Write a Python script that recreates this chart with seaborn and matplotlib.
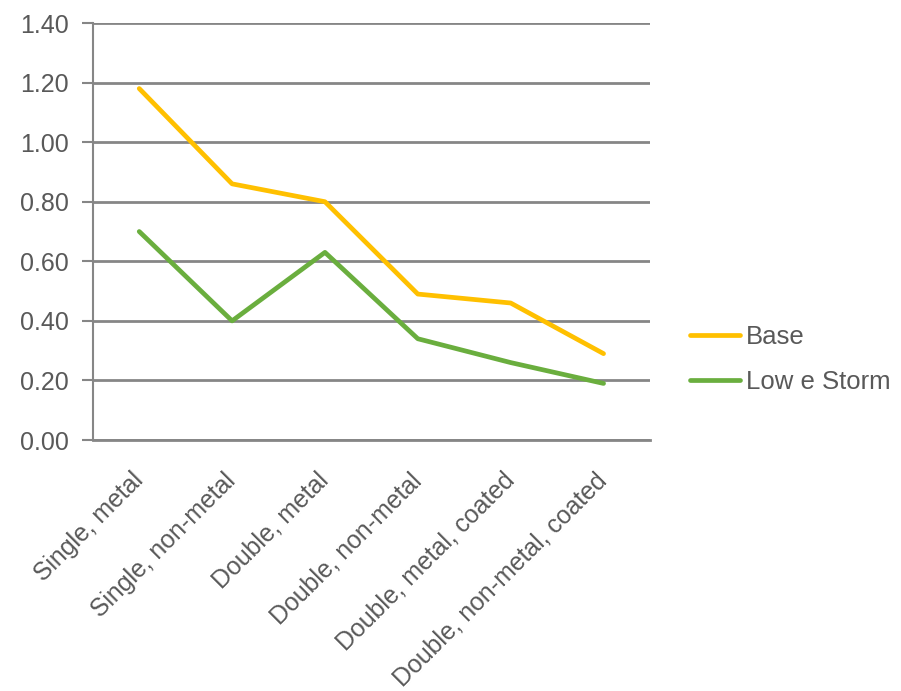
import matplotlib
matplotlib.use("Agg")
import matplotlib.pyplot as plt
import seaborn as sns
import pandas as pd

categories = ["Single, metal", "Single, non-metal", "Double, metal",
              "Double, non-metal", "Double, metal, coated", "Double, non-metal, coated"]
base = [1.18, 0.86, 0.80, 0.49, 0.46, 0.29]
low_e_storm = [0.70, 0.40, 0.63, 0.34, 0.26, 0.19]
series_names = ["Base", "Low e Storm"]
y_ticks = [0.0, 0.2, 0.4, 0.6, 0.8, 1.0, 1.2, 1.4]

df = pd.DataFrame({
    "category": categories * 2,
    "value": base + low_e_storm,
    "series": [series_names[0]] * len(categories) + [series_names[1]] * len(categories),
})

sns.set_style("white")
plt.rcParams["font.family"] = ["Liberation Sans", "DejaVu Sans"]

text_color = "#595959"
grid_color = "#868686"

fig = plt.figure(figsize=(9.01, 6.91), dpi=100)
ax = fig.add_axes([0.103, 0.3632, 0.6184, 0.6035])

sns.lineplot(data=df, x="category", y="value", hue="series", hue_order=series_names,
             palette=["#FFC000", "#6AAE3E"], linewidth=3.4, sort=False, ax=ax,
             legend=True)

ax.set_xlim(-0.5, len(categories) - 0.5)
ax.set_ylim(0, 1.4)
ax.set_yticks(y_ticks)
ax.set_yticklabels([f"{v:.2f}" for v in y_ticks])
ax.yaxis.grid(True, color=grid_color, linewidth=2.0)
ax.set_axisbelow(True)

ax.set_xticks(range(len(categories)))
ax.set_xticklabels(categories, rotation=45, ha="right", va="center", rotation_mode="anchor")
ax.set_xticks([i - 0.5 for i in range(len(categories) + 1)], minor=True)
ax.tick_params(axis="x", which="major", length=0, pad=26.5, labelsize=17.9, labelcolor=text_color)
ax.tick_params(axis="x", which="minor", length=6, width=1.5, color=grid_color, direction="out")
ax.tick_params(axis="y", length=8, width=1.5, color=grid_color, pad=9.5,
               labelsize=18, labelcolor=text_color, left=True)

for s in ["top", "right"]:
    ax.spines[s].set_visible(False)
ax.spines["left"].set_color(grid_color)
ax.spines["left"].set_linewidth(1.5)
ax.spines["bottom"].set_color(grid_color)
ax.spines["bottom"].set_linewidth(2.0)

ax.set_xlabel("")
ax.set_ylabel("")

handles, labels = ax.get_legend_handles_labels()
leg = ax.legend(handles, labels, loc="center left", bbox_to_anchor=(1.054, 0.193),
                frameon=False, fontsize=18.5, handlelength=1.95, handletextpad=0.2,
                labelspacing=0.79, borderaxespad=0)
for t in leg.get_texts():
    t.set_color(text_color)

fig.savefig("out.png", dpi=100)
